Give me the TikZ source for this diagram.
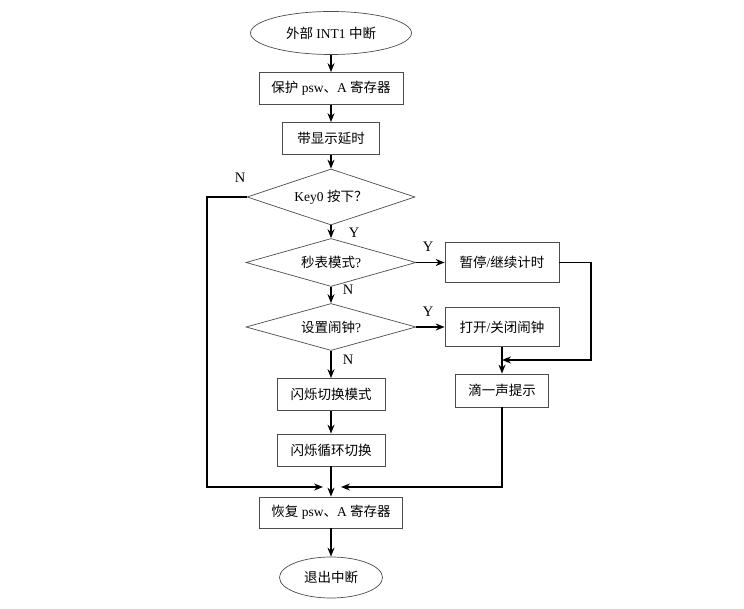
\documentclass[tikz,border=0pt]{standalone}
\usepackage{fontspec}
\setmainfont{Liberation Serif}
\newfontfamily\cjk{Noto Sans CJK SC}
\newcommand{\zh}[1]{{\cjk #1}}
\usetikzlibrary{shapes.geometric,arrows.meta}
\tikzset{
  term/.style={ellipse,draw=black!70,line width=0.7pt,inner sep=0pt,minimum width=161pt,minimum height=43pt},
  proc/.style={rectangle,draw=black!70,line width=0.7pt,inner sep=0pt,minimum height=32pt},
  decide/.style={diamond,aspect=3,draw=black!70,line width=0.7pt,inner sep=0pt,minimum width=170pt,minimum height=48pt},
  flow/.style={line width=1.4pt,-{Stealth[length=9pt,width=7pt]}},
  link/.style={line width=1.4pt},
  yn/.style={font=\fontsize{14.5}{16}\selectfont}
}
\begin{document}
\begin{tikzpicture}[x=1pt,y=-1pt,font=\fontsize{13.5}{15}\selectfont]
  \useasboundingbox (0,0) rectangle (744,609);

  % Main column
  \node[term] (start) at (331,33) {\zh{外部} INT1 \zh{中断}};
  \node[proc,minimum width=144pt] (protect) at (331,88.5) {\zh{保护} psw\zh{、}A \zh{寄存器}};
  \node[proc,minimum width=97pt] (delay) at (331,138.5) {\zh{带显示延时}};
  \node[decide,minimum width=168pt,minimum height=56pt] (key0) at (331,197) {Key0 \zh{按下？}};
  \node[decide] (mode) at (331,262.5) {\zh{秒表模式}?};
  \node[decide,minimum height=47pt] (alarm) at (331,327) {\zh{设置闹钟}?};
  \node[proc,minimum width=108pt] (flash1) at (331,394.5) {\zh{闪烁切换模式}};
  \node[proc,minimum width=108pt] (flash2) at (331,450) {\zh{闪烁循环切换}};
  \node[proc,minimum width=143pt,minimum height=31pt] (restore) at (331,512.5) {\zh{恢复} psw\zh{、}A \zh{寄存器}};
  \node[term,minimum width=103pt,minimum height=41pt] (exit) at (331,577.5) {\zh{退出中断}};

  % Right column
  \node[proc,minimum width=114pt,minimum height=40pt] (pause) at (502,262.5) {\zh{暂停}/\zh{继续计时}};
  \node[proc,minimum width=114pt,minimum height=39pt] (toggle) at (502,327) {\zh{打开}/\zh{关闭闹钟}};
  \node[proc,minimum width=93pt,minimum height=33pt] (beep) at (502,390.5) {\zh{滴一声提示}};

  % Turning points
  \coordinate (junc) at (502,360);
  \coordinate (rturn) at (591,360);
  \coordinate (lbot) at (207,487);
  \coordinate (mergeL) at (323,487);
  \coordinate (mergeR) at (341,487);

  % Labels
  \node[yn] (n0) at (240,178) {N};
  \node[yn] (y0) at (354,233) {Y};
  \node[yn] (y1) at (428,247) {Y};
  \node[yn] (n1) at (348,290) {N};
  \node[yn] (y2) at (428,312) {Y};
  \node[yn] (n2) at (348,360) {N};

  % Main flow
  \draw[flow] (start) -- (protect);
  \draw[flow] (protect) -- (delay);
  \draw[flow] (delay) -- (key0);
  \draw[flow] (key0) -- (mode);
  \draw[flow] (mode) -- (alarm);
  \draw[flow] (alarm) -- (flash1);
  \draw[flow] (flash1) -- (flash2);
  \draw[flow] (flash2) -- (restore);
  \draw[flow] (restore) -- (exit);

  % Yes branches
  \draw[flow] (mode.east) -- (pause.west);
  \draw[flow] (alarm.east) -- (toggle.west);
  \draw[flow] (pause.east) -| (rturn) -- (junc);
  \draw[link] (toggle.south) -- (junc);
  \draw[flow] (junc) -- (beep.north);

  % Back to restore
  \draw[flow] (key0.west) -| (lbot) -- (mergeL);
  \draw[flow] (beep.south) |- (mergeR);
\end{tikzpicture}
\end{document}
